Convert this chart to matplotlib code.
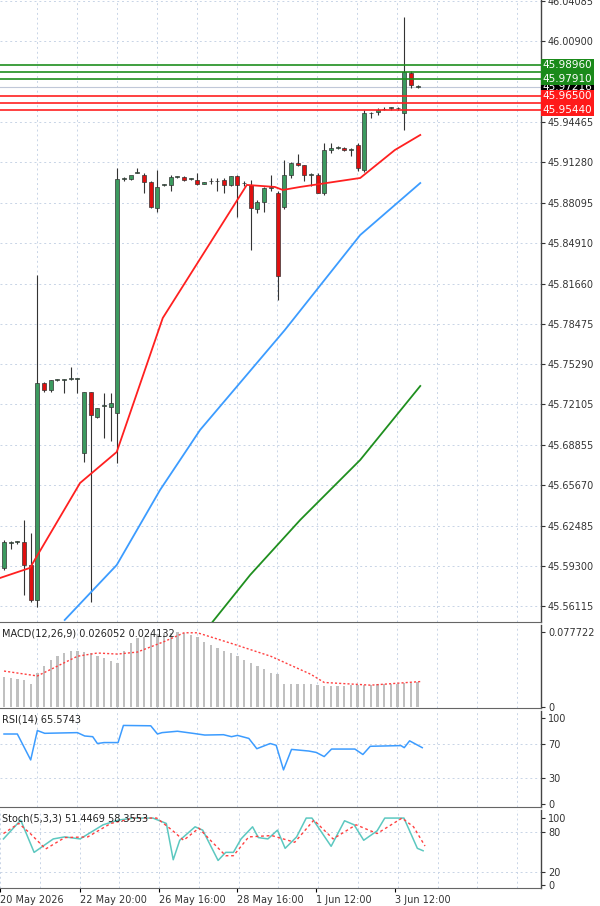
import matplotlib
matplotlib.use("Agg")
import matplotlib.pyplot as plt
import numpy as np

opens  = [45.5913,45.6111,45.6119,45.6119,45.5936,45.5659,45.7379,45.7323,45.7403,45.7403,45.7411,45.7411,45.6824,45.7308,45.7110,45.7197,45.7189,45.7141,45.8996,45.8996,45.9044,45.9028,45.8972,45.8766,45.8949,45.8949,45.9012,45.9012,45.8996,45.8988,45.8957,45.8980,45.8980,45.8988,45.8949,45.9020,45.8964,45.8949,45.8758,45.8814,45.8925,45.8885,45.8774,45.9028,45.9123,45.9107,45.9028,45.9028,45.8885,45.9226,45.9242,45.9242,45.9226,45.9266,45.9067,45.9519,45.9527,45.9550,45.9559,45.9555,45.9519,45.9836,45.9726]
highs  = [45.6135,45.6130,45.6130,45.6293,45.6190,45.8235,45.7390,45.7403,45.7410,45.7410,45.7506,45.7420,45.7308,45.7310,45.7181,45.7300,45.7300,45.9083,45.9010,45.9010,45.9080,45.9040,45.8980,45.9067,45.8955,45.9030,45.9020,45.9020,45.9000,45.9040,45.8975,45.9000,45.9000,45.9000,45.9020,45.9030,45.8980,45.8990,45.8830,45.8930,45.9028,45.8900,45.9147,45.9130,45.9195,45.9110,45.9040,45.9040,45.9280,45.9280,45.9260,45.9250,45.9240,45.9280,45.9540,45.9530,45.9560,45.9570,45.9570,45.9565,46.0280,45.9850,45.9740]
lows   = [45.5900,45.6060,45.6100,45.5698,45.5643,45.5603,45.7310,45.7310,45.7395,45.7300,45.7400,45.7300,45.6753,45.5643,45.7100,45.6943,45.6920,45.6745,45.8980,45.8990,45.9040,45.8885,45.8766,45.8734,45.8940,45.8900,45.9005,45.8980,45.8985,45.8950,45.8955,45.8960,45.8900,45.8885,45.8940,45.8695,45.8940,45.8433,45.8730,45.8734,45.8900,45.8037,45.8760,45.9000,45.9100,45.8980,45.8940,45.8885,45.8870,45.9200,45.9230,45.9220,45.9180,45.9060,45.9050,45.9480,45.9500,45.9540,45.9540,45.9545,45.9385,45.9720,45.9715]
closes = [45.6119,45.6115,45.6119,45.5936,45.5659,45.7379,45.7323,45.7403,45.7403,45.7403,45.7411,45.7411,45.7308,45.7125,45.7181,45.7197,45.7220,45.8996,45.8996,45.9028,45.9044,45.8972,45.8774,45.8933,45.8949,45.9012,45.9012,45.8988,45.8996,45.8957,45.8972,45.8980,45.8980,45.8949,45.9020,45.8949,45.8964,45.8766,45.8814,45.8925,45.8925,45.8227,45.9028,45.9123,45.9107,45.9028,45.9028,45.8885,45.9226,45.9242,45.9246,45.9226,45.9226,45.9083,45.9519,45.9519,45.9543,45.9550,45.9559,45.9555,45.9844,45.9741,45.9726]

ma_fast_idx = [-0.6,3.9,11.4,16.9,23.8,36.4,40.6,41.8,44.4,53.4,58.6,62.4]
ma_fast_val = [45.5833,45.5913,45.6586,45.6832,45.7894,45.8949,45.8933,45.8909,45.8933,45.9004,45.9226,45.9345]
ma_mid_idx = [9.1,16.9,23.4,29.4,42.1,53.4,62.4]
ma_mid_val = [45.5500,45.5936,45.6531,45.7007,45.7799,45.8552,45.8964]
ma_slow_idx = [30.9,36.9,44.4,53.4,62.4]
ma_slow_val = [45.5461,45.5857,45.6293,45.6769,45.7355]

green_levels = [45.98960, 45.98420, 45.97910]
red_levels = [45.96500, 45.96000, 45.95440]
last_price = 45.97216

price_ticks = [46.04085,46.00900,45.94465,45.91280,45.88095,45.84910,45.81660,45.78475,45.75290,45.72105,45.68855,45.65670,45.62485,45.59300,45.56115]

macd_hist = [0.0317,0.0307,0.0297,0.0283,0.0239,0.0358,0.0426,0.0494,0.0535,0.0563,0.0580,0.0587,0.0573,0.0563,0.0529,0.0512,0.0477,0.0460,0.0580,0.0672,0.0716,0.0733,0.0750,0.0760,0.0767,0.0774,0.0784,0.0774,0.0750,0.0733,0.0682,0.0648,0.0614,0.0580,0.0563,0.0529,0.0494,0.0460,0.0426,0.0392,0.0358,0.0341,0.0239,0.0239,0.0239,0.0239,0.0239,0.0228,0.0222,0.0222,0.0222,0.0222,0.0228,0.0228,0.0228,0.0228,0.0239,0.0239,0.0239,0.0239,0.0246,0.0250,0.0256]
macd_sig_idx = [0,5,7,11,14,17,20,24,27,29,34,40,46,48,55,62.5]
macd_sig_val = [0.0375,0.0324,0.0392,0.0529,0.0563,0.0552,0.0573,0.0682,0.0774,0.0774,0.0665,0.0529,0.0341,0.0256,0.0228,0.0266]

rsi_idx = [0,2.0,4.0,5.0,6.1,11.0,12.1,13.3,14.0,15.0,17.1,17.9,22.0,23.0,23.7,26.0,28.3,30.1,32.9,34.1,35.0,36.7,37.9,39.9,40.8,41.9,43.1,45.7,46.8,48.0,49.1,52.6,53.8,54.9,59.5,60.0,60.8,62.7]
rsi_val = [81.4,81.4,51.4,85.4,82.2,83.0,79.1,78.3,70.4,71.5,71.5,91.3,90.9,81.4,83.0,84.6,82.2,80.2,80.6,78.3,79.8,76.3,64.4,70.4,68.4,39.9,63.6,61.7,60.1,55.3,64.0,64.0,57.7,67.2,68.0,65.6,73.5,65.6]

stoch_zx = [0,45,80,130,160,200,260,300,340,390,425,443,460,500,520,560,580,600,620,650,665,690,715,735,765,790,805,855,890,915,940,975,995,1030,1045,1080,1095]
stoch_main = [69,97,49,69,72,69,90,97,100,100,92,38,67,87,82,37,49,49,69,87,71,69,82,55,72,100,100,58,96,90,67,81,100,100,100,55,51.4]
stoch_sig_zx = [0,40,70,110,160,220,280,340,400,440,470,510,540,580,600,640,700,760,810,860,920,975,1040,1070,1100]
stoch_sig = [77,92,77,54,71,72,92,100,100,82,67,85,67,44,44,72,74,64,97,69,90,77,100,87,58.4]
stoch_main_idx = [(z - 10) / 17.3 for z in stoch_zx]
stoch_sig_idx = [(z - 10) / 17.3 for z in stoch_sig_zx]

date_pos = [-1.1, 10.9, 22.9, 34.6, 46.5, 58.5]
date_labels = ["20 May 2026", "22 May 20:00", "26 May 16:00", "28 May 16:00", "1 Jun 12:00", "3 Jun 12:00"]

fig = plt.figure(figsize=(6, 9.06), dpi=100)
W, H = 600, 906
def box(top, bot):
    return [0, 1 - bot / H, 541 / W, (bot - top) / H]
ax = fig.add_axes(box(0, 622))
axm = fig.add_axes(box(625, 708))
axr = fig.add_axes(box(711, 807))
axs = fig.add_axes(box(810, 888))

XL = (-0.6, 80.5)
grid_x = np.arange(-1.1, 80, 6.0)
gkw = dict(color="#c8d4e6", ls=(0, (2, 3)), lw=0.7)
FS = 7

for a in (ax, axm, axr, axs):
    a.set_xlim(*XL)
    for gx in grid_x:
        a.axvline(gx, zorder=0, **gkw)
    a.yaxis.tick_right()
    a.tick_params(axis="y", length=3, labelsize=FS, pad=2, colors="#333333")
    a.tick_params(axis="x", length=0)
    a.set_xticks([])
    for s in a.spines.values():
        s.set_color("#666666")
        s.set_linewidth(0.8)
    a.spines["left"].set_visible(False)
    a.spines["top"].set_visible(False)
    a.spines["right"].set_linewidth(1.0)
    a.spines["right"].set_color("#444444")

ax.set_ylim(45.5484, 46.0415)
for p in price_ticks:
    ax.axhline(p, zorder=0, **gkw)
ax.set_yticks(price_ticks)
ax.set_yticklabels([f"{p:.5f}" for p in price_ticks])

idx = np.arange(len(opens))
for i, o, h, l, c in zip(idx, opens, highs, lows, closes):
    ax.vlines(i, l, h, color="#333333", lw=0.8, zorder=3)
    col = "#3c9a5f" if c >= o else "#e01010"
    hgt = max(abs(c - o), 0.0004)
    ax.add_patch(plt.Rectangle((i - 0.3, min(o, c)), 0.6, hgt, facecolor=col, edgecolor="#333333", lw=0.5, zorder=4))

ax.plot(ma_fast_idx, ma_fast_val, color="#ff2020", lw=1.3, zorder=5)
ax.plot(ma_mid_idx, ma_mid_val, color="#3c9cff", lw=1.3, zorder=5)
ax.plot(ma_slow_idx, ma_slow_val, color="#1f8f1f", lw=1.3, zorder=5)

for g in green_levels:
    ax.axhline(g, color="#1f8f1f", lw=1.2, zorder=6)
for r in red_levels:
    ax.axhline(r, color="#ff2020", lw=1.2, zorder=6)
ax.axhline(last_price, color="#c0c8d8", lw=0.8, zorder=2)

def tag(a, y, text, fc, tc="white"):
    a.text(1.003, y, text, transform=a.get_yaxis_transform(), fontsize=7.5, color=tc, va="center", ha="left",
           bbox=dict(boxstyle="square,pad=0.15", fc=fc, ec="none"), zorder=10, clip_on=False)
tag(ax, last_price, f"{last_price:.5f}", "black")
tag(ax, green_levels[0], f"{green_levels[0]:.5f}", "#1a8a1a")
tag(ax, green_levels[2], f"{green_levels[2]:.5f}", "#1a8a1a")
tag(ax, red_levels[2], f"{red_levels[2]:.5f}", "#ff1a1a")
tag(ax, red_levels[0], f"{red_levels[0]:.5f}", "#ff1a1a")

axm.set_ylim(-0.001, 0.0855)
axm.bar(idx, macd_hist, width=0.35, color="#c0c0c0", zorder=2)
axm.plot(macd_sig_idx, macd_sig_val, color="#ff4040", ls=(0, (1.5, 1.5)), lw=1.0, zorder=3)
axm.set_yticks([0, 0.077722])
axm.set_yticklabels(["0", "0.077722"])
axm.text(0.003, 0.96, "MACD(12,26,9) 0.026052 0.024132", transform=axm.transAxes, fontsize=FS, va="top", color="#222222")

axr.set_ylim(-3, 108)
for lv in (70, 30):
    axr.axhline(lv, zorder=0, **gkw)
axr.plot(rsi_idx, rsi_val, color="#3c9cff", lw=1.1)
axr.set_yticks([0, 30, 70, 100])
axr.text(0.003, 0.96, "RSI(14) 65.5743", transform=axr.transAxes, fontsize=FS, va="top", color="#222222")

axs.set_ylim(-4, 112)
for lv in (80, 20):
    axs.axhline(lv, zorder=0, **gkw)
axs.plot(stoch_main_idx, stoch_main, color="#5cc8c0", lw=1.1)
axs.plot(stoch_sig_idx, stoch_sig, color="#ff4040", ls=(0, (2, 2)), lw=1.0)
axs.set_yticks([0, 20, 80, 100])
axs.text(0.003, 0.96, "Stoch(5,3,3) 51.4469 58.3553", transform=axs.transAxes, fontsize=FS, va="top", color="#222222")
axs.set_xticks(date_pos)
axs.set_xticklabels(date_labels, ha="left", fontsize=FS, color="#333333")
axs.tick_params(axis="x", length=3, pad=2)
axs.spines["bottom"].set_visible(True)

fig.savefig("out.png", dpi=100)
